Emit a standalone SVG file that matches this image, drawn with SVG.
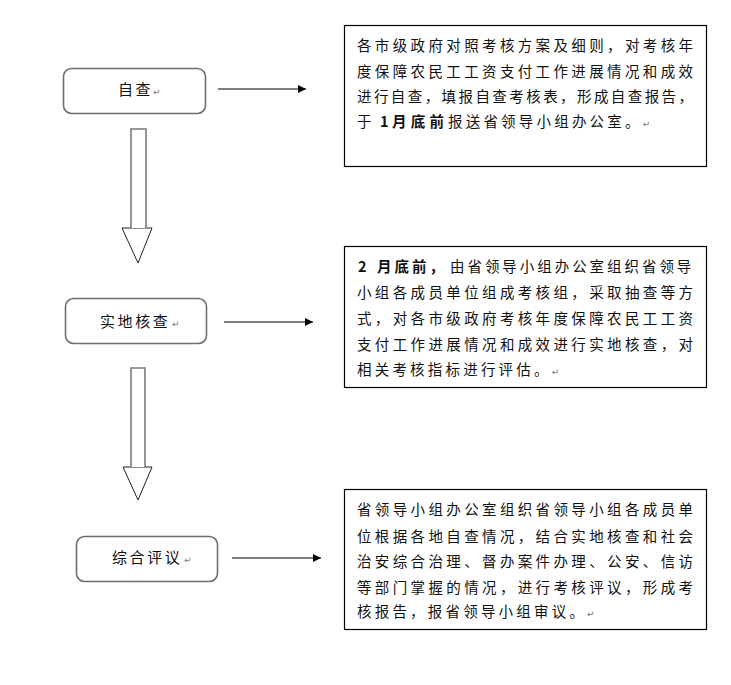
<svg xmlns="http://www.w3.org/2000/svg" width="731" height="685" viewBox="0 0 731 685">
<style>
.node{fill:#fff;stroke:#6e6e6e;stroke-width:1.6}
.box{fill:#fff;stroke:#000;stroke-width:1.2}
.lbl{font-family:"Noto Sans CJK SC","Noto Sans CJK JP",sans-serif;font-size:15px;fill:#111;letter-spacing:2.6px}
.t{font-family:"Noto Sans CJK SC","Noto Sans CJK JP",sans-serif;font-size:14.5px;fill:#111}
.b{font-weight:bold}
.pm{font-family:"DejaVu Sans",sans-serif;font-size:9px;fill:#777;letter-spacing:0}
.conn{stroke:#000;stroke-width:1.2;fill:none}
.shaft{fill:#fff;stroke:#7a7a7a;stroke-width:1.6}
.head{fill:#fff;stroke:#222;stroke-width:1}
</style>
<defs>
<marker id="ah" viewBox="0 0 10 10" refX="10" refY="5" markerWidth="10" markerHeight="8" markerUnits="userSpaceOnUse" orient="auto">
<path d="M0,0 L10,5 L0,10 z" fill="#000"/>
</marker>
</defs>
<rect width="731" height="685" fill="#fff"/>

<g id="connectors">
<line class="conn" x1="218" y1="89" x2="306" y2="89" marker-end="url(#ah)"/>
<line class="conn" x1="224" y1="322" x2="313" y2="322" marker-end="url(#ah)"/>
<line class="conn" x1="232" y1="558" x2="321" y2="558" marker-end="url(#ah)"/>
<g id="blockarrow1">
<path class="head" d="M122,228 L152,228 L138,263 Z"/>
<path class="shaft" d="M131,228 L131,129 L146,129 L146,228"/>
</g>
<g id="blockarrow2">
<path class="head" d="M123,467 L152,467 L138,500 Z"/>
<path class="shaft" d="M131,467 L131,368 L145,368 L145,467"/>
</g>
</g>

<g id="node-zicha">
<rect class="node" x="63.5" y="68.5" width="142" height="45" rx="8"/>
<text class="lbl" x="118" y="95">自查</text>
<text class="pm" x="153" y="95">↵</text>
</g>

<g id="node-shidi">
<rect class="node" x="65.5" y="298.5" width="141" height="45" rx="8"/>
<text class="lbl" x="100" y="327">实地核查</text>
<text class="pm" x="172" y="327">↵</text>
</g>

<g id="node-zonghe">
<rect class="node" x="76.5" y="536.5" width="141" height="45" rx="8"/>
<text class="lbl" x="112" y="563">综合评议</text>
<text class="pm" x="184" y="563">↵</text>
</g>

<g id="box1">
<rect class="box" x="344.5" y="25.5" width="362" height="141"/>
<text class="t" x="357" y="51" textLength="336" lengthAdjust="spacing">各市级政府对照考核方案及细则，对考核年</text>
<text class="t" x="357" y="77" textLength="336" lengthAdjust="spacing">度保障农民工工资支付工作进展情况和成效</text>
<text class="t" x="357" y="102" textLength="336" lengthAdjust="spacing">进行自查，填报自查考核表，形成自查报告，</text>
<text class="t" y="127"><tspan x="357">于</tspan><tspan class="b" x="380">1</tspan><tspan class="b" x="392" letter-spacing="4.3">月底前</tspan><tspan x="448" letter-spacing="3.2">报送省领导小组办公室。</tspan><tspan class="pm">↵</tspan></text>
</g>

<g id="box2">
<rect class="box" x="344.5" y="246.5" width="362" height="141"/>
<text class="t" y="272"><tspan class="b" x="358">2</tspan><tspan class="b" x="377" letter-spacing="3">月底前，</tspan><tspan x="450" letter-spacing="2.95">由省领导小组办公室组织省领导</tspan></text>
<text class="t" x="357" y="298" textLength="336" lengthAdjust="spacing">小组各成员单位组成考核组，采取抽查等方</text>
<text class="t" x="357" y="324" textLength="336" lengthAdjust="spacing">式，对各市级政府考核年度保障农民工工资</text>
<text class="t" x="357" y="350" textLength="336" lengthAdjust="spacing">支付工作进展情况和成效进行实地核查，对</text>
<text class="t" x="357" y="375" letter-spacing="3.2">相关考核指标进行评估。<tspan class="pm">↵</tspan></text>
</g>

<g id="box3">
<rect class="box" x="344.5" y="489.5" width="362" height="140"/>
<text class="t" x="357" y="515" textLength="336" lengthAdjust="spacing">省领导小组办公室组织省领导小组各成员单</text>
<text class="t" x="357" y="542" textLength="336" lengthAdjust="spacing">位根据各地自查情况，结合实地核查和社会</text>
<text class="t" x="357" y="567" textLength="336" lengthAdjust="spacing">治安综合治理、督办案件办理、公安、信访</text>
<text class="t" x="357" y="593" textLength="336" lengthAdjust="spacing">等部门掌握的情况，进行考核评议，形成考</text>
<text class="t" x="357" y="617" letter-spacing="3.2">核报告，报省领导小组审议。<tspan class="pm">↵</tspan></text>
</g>
</svg>
